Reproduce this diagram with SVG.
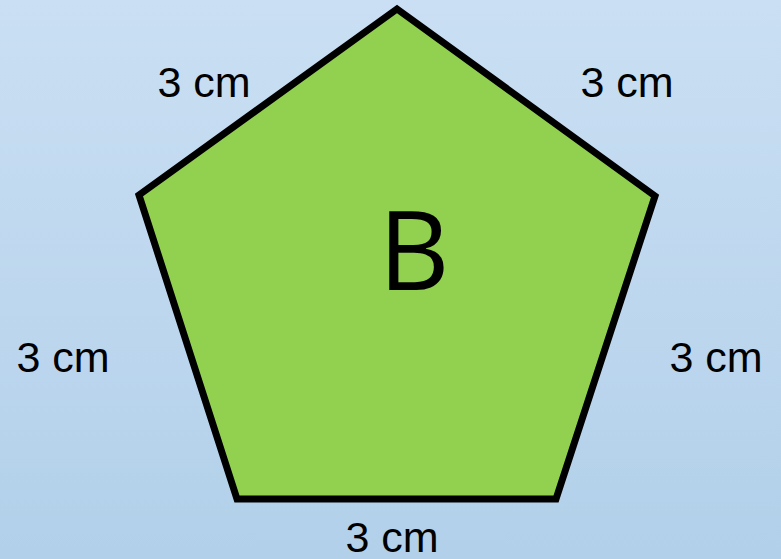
<svg xmlns="http://www.w3.org/2000/svg" width="781" height="559" viewBox="0 0 781 559">
<defs>
<linearGradient id="bg" x1="0" y1="0" x2="0" y2="1">
<stop offset="0" stop-color="#cadff3"/>
<stop offset="1" stop-color="#b2d0ea"/>
</linearGradient>
<style>
.lbl{font-family:"Liberation Sans",Arial,sans-serif;font-size:43px;fill:#000;text-anchor:middle}
.big{font-family:"Open Sans","Liberation Sans",sans-serif;font-size:110px;fill:#000;text-anchor:middle}
</style>
</defs>
<rect width="781" height="559" fill="url(#bg)"/>
<g id="pentagon">
<polygon points="397,9 655,196 556,499 237,499 139,195" fill="#92d050" stroke="#000" stroke-width="7" stroke-linejoin="miter"/>
<text class="big" x="414" y="290">B</text>
</g>
<g id="labels">
<text class="lbl" x="204" y="97">3 cm</text>
<text class="lbl" x="627" y="97">3 cm</text>
<text class="lbl" x="63" y="372">3 cm</text>
<text class="lbl" x="716" y="372">3 cm</text>
<text class="lbl" x="392" y="552">3 cm</text>
</g>
</svg>
